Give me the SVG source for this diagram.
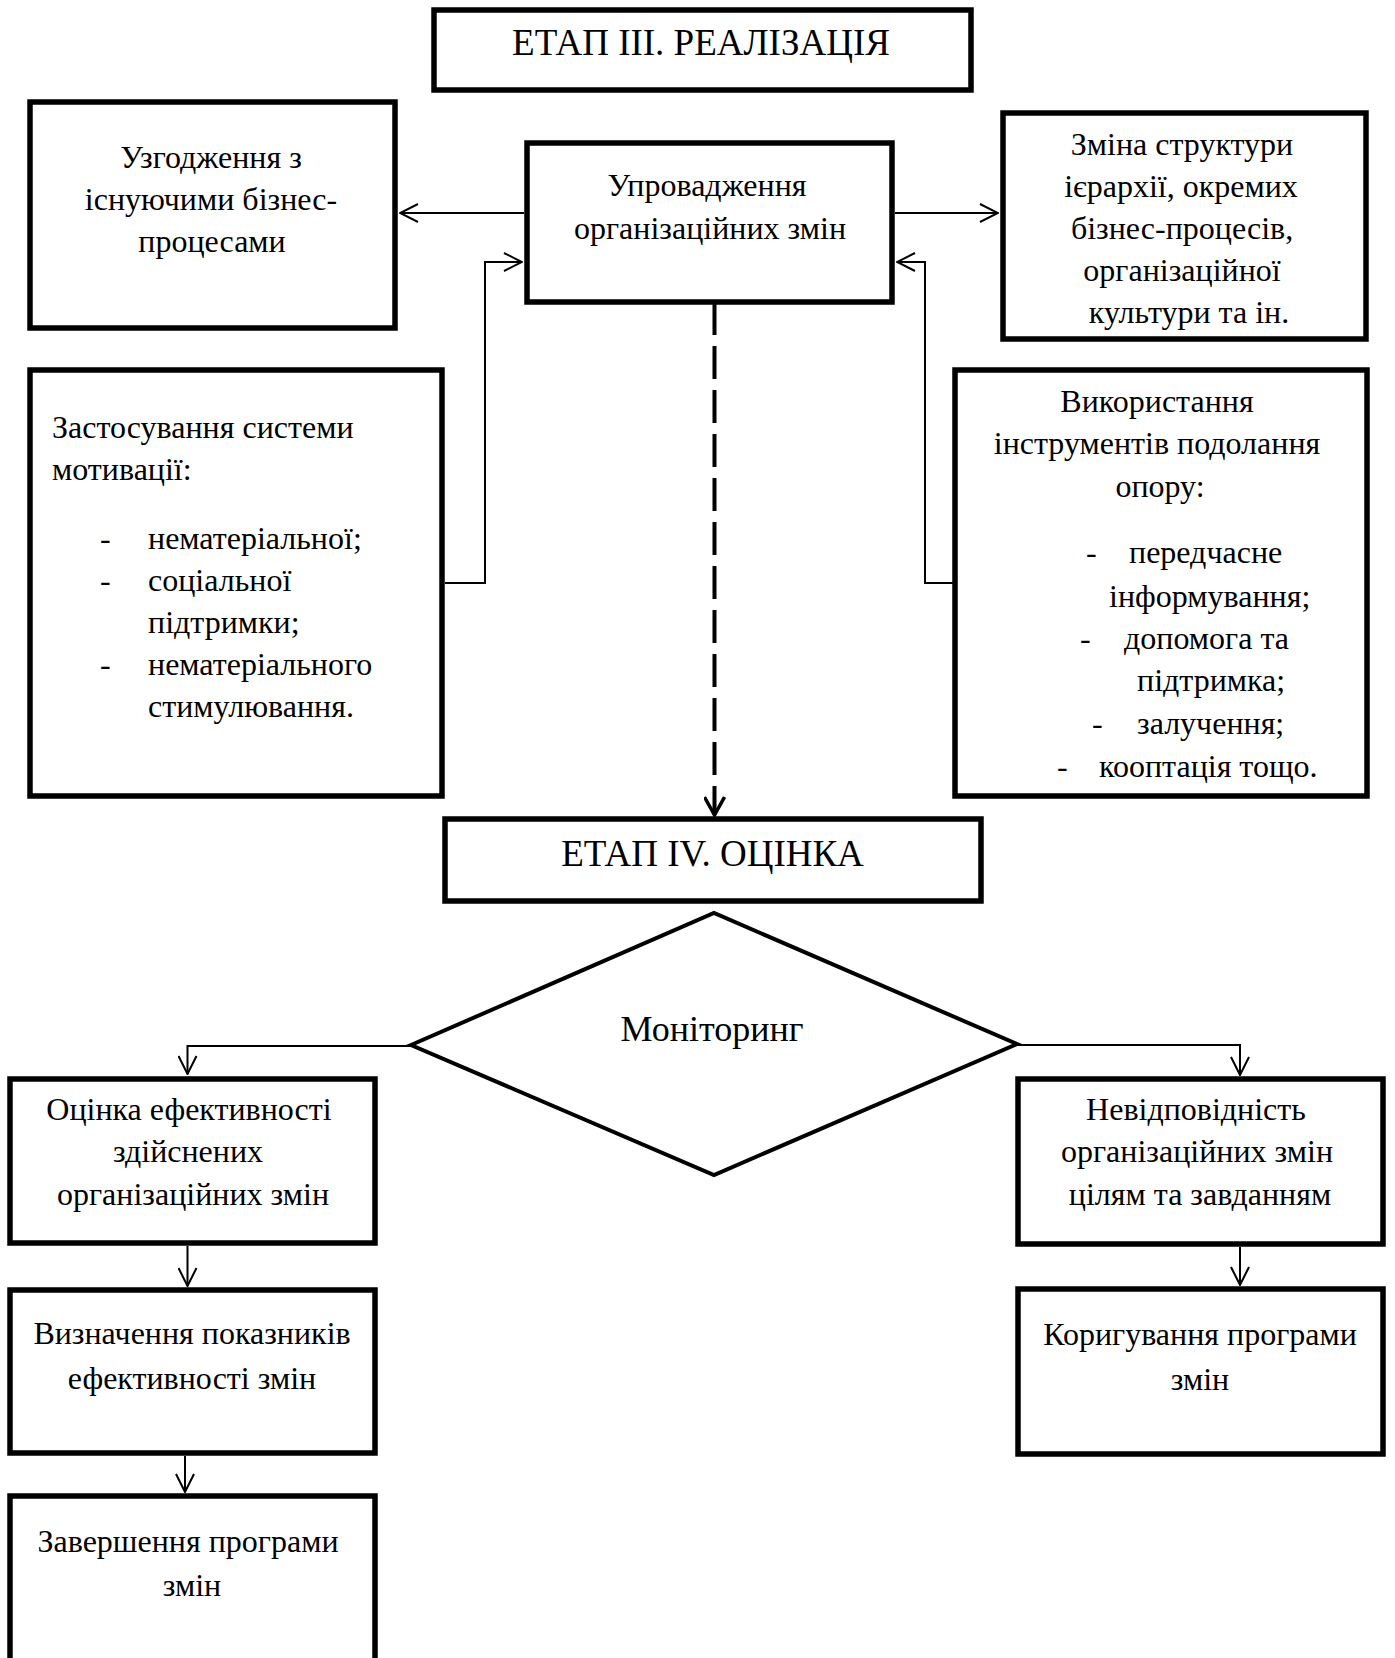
<svg xmlns="http://www.w3.org/2000/svg" width="1395" height="1658" viewBox="0 0 1395 1658">
<style>
.box{fill:#fff;stroke:#000;stroke-width:5.5}
.dia{fill:#fff;stroke:#000;stroke-width:4;stroke-linejoin:miter}
.t{font-family:"Liberation Serif","Times New Roman",serif;font-size:32px;fill:#000}
.c{text-anchor:middle}
.h{font-size:37px}
.m{font-size:36px}
.conn{fill:none;stroke:#000;stroke-width:2}
.dash{fill:none;stroke:#000;stroke-width:4;stroke-dasharray:33 11}
</style>
<defs>
<marker id="arr" viewBox="0 0 20 20" refX="19" refY="10" markerWidth="20" markerHeight="20" markerUnits="userSpaceOnUse" orient="auto">
<path d="M1,1 L19,10 L1,19" fill="none" stroke="#000" stroke-width="2"/>
</marker>
<marker id="arrD" viewBox="0 0 22 22" refX="20" refY="11" markerWidth="22" markerHeight="22" markerUnits="userSpaceOnUse" orient="auto">
<path d="M2,1 L20,11 L2,21" fill="none" stroke="#000" stroke-width="3.5"/>
</marker>
</defs>
<rect width="1395" height="1658" fill="#fff"/>

<g id="connectors">
<path class="conn" d="M524,213 L400,213" marker-end="url(#arr)"/>
<path class="conn" d="M895,213 L998,213" marker-end="url(#arr)"/>
<path class="conn" d="M445,583 L485,583 L485,262 L522,262" marker-end="url(#arr)"/>
<path class="conn" d="M953,583 L925,583 L925,262 L897,262" marker-end="url(#arr)"/>
<path class="dash" d="M714.5,302 L714.5,815"/>
<path d="M714.5,800 L714.5,815" fill="none" stroke="none" marker-end="url(#arrD)"/>
<path class="conn" d="M411,1046 L187.5,1046 L187.5,1074" marker-end="url(#arr)"/>
<path class="conn" d="M1017,1045 L1240,1045 L1240,1075" marker-end="url(#arr)"/>
<path class="conn" d="M187.5,1246 L187.5,1286" marker-end="url(#arr)"/>
<path class="conn" d="M185,1456 L185,1492" marker-end="url(#arr)"/>
<path class="conn" d="M1240,1247 L1240,1285" marker-end="url(#arr)"/>
</g>

<g id="etap3">
<rect class="box" x="434" y="10" width="537" height="80"/>
<text class="t c h" x="701" y="55">ЕТАП ІІІ. РЕАЛІЗАЦІЯ</text>
</g>

<g id="uzgodzhennia">
<rect class="box" x="30" y="102" width="365" height="226"/>
<text class="t c" x="211" y="168">Узгодження з</text>
<text class="t c" x="211" y="210">існуючими бізнес-</text>
<text class="t c" x="212" y="252">процесами</text>
</g>

<g id="uprovadzhennia">
<rect class="box" x="527" y="143" width="365" height="159"/>
<text class="t c" x="707" y="196">Упровадження</text>
<text class="t c" x="710" y="239">організаційних змін</text>
</g>

<g id="zmina">
<rect class="box" x="1003" y="113" width="363" height="226"/>
<text class="t c" x="1182" y="155">Зміна структури</text>
<text class="t c" x="1181" y="197">ієрархії, окремих</text>
<text class="t c" x="1182" y="239">бізнес-процесів,</text>
<text class="t c" x="1182" y="281">організаційної</text>
<text class="t c" x="1189" y="323">культури та ін.</text>
</g>

<g id="zastosuvannia">
<rect class="box" x="30" y="370" width="412" height="426"/>
<text class="t" x="52" y="438">Застосування системи</text>
<text class="t" x="52" y="480">мотивації:</text>
<text class="t" x="100" y="549">-</text>
<text class="t" x="148" y="549">нематеріальної;</text>
<text class="t" x="100" y="591">-</text>
<text class="t" x="148" y="591">соціальної</text>
<text class="t" x="148" y="633">підтримки;</text>
<text class="t" x="100" y="675">-</text>
<text class="t" x="148" y="675">нематеріального</text>
<text class="t" x="148" y="717">стимулювання.</text>
</g>

<g id="vykorystannia">
<rect class="box" x="955" y="370" width="412" height="426"/>
<text class="t c" x="1157" y="412">Використання</text>
<text class="t c" x="1157" y="454">інструментів подолання</text>
<text class="t c" x="1160" y="497">опору:</text>
<text class="t" x="1086" y="563">-</text>
<text class="t" x="1129" y="563">передчасне</text>
<text class="t" x="1109" y="607">інформування;</text>
<text class="t" x="1080" y="649">-</text>
<text class="t" x="1124" y="649">допомога та</text>
<text class="t" x="1137" y="691">підтримка;</text>
<text class="t" x="1092" y="734">-</text>
<text class="t" x="1137" y="734">залучення;</text>
<text class="t" x="1057" y="777">-</text>
<text class="t" x="1099" y="777">кооптація тощо.</text>
</g>

<g id="etap4">
<rect class="box" x="445" y="819" width="536" height="82"/>
<text class="t c h" x="712.5" y="866">ЕТАП IV. ОЦІНКА</text>
</g>

<g id="monitoring">
<polygon class="dia" points="411,1045 714,913 1017,1044 714,1175"/>
<text class="t c m" x="712" y="1041">Моніторинг</text>
</g>

<g id="otsinka">
<rect class="box" x="10" y="1079" width="365" height="164"/>
<text class="t c" x="189" y="1120">Оцінка ефективності</text>
<text class="t c" x="188" y="1162">здійснених</text>
<text class="t c" x="193" y="1205">організаційних змін</text>
</g>

<g id="nevidpovidnist">
<rect class="box" x="1018" y="1079" width="365" height="165"/>
<text class="t c" x="1196" y="1120">Невідповідність</text>
<text class="t c" x="1197" y="1162">організаційних змін</text>
<text class="t c" x="1200" y="1205">цілям та завданням</text>
</g>

<g id="vyznachennia">
<rect class="box" x="10" y="1290" width="365" height="163"/>
<text class="t c" x="192" y="1344">Визначення показників</text>
<text class="t c" x="192" y="1389">ефективності змін</text>
</g>

<g id="koryguvannia">
<rect class="box" x="1018" y="1289" width="365" height="165"/>
<text class="t c" x="1200" y="1345">Коригування програми</text>
<text class="t c" x="1200" y="1390">змін</text>
</g>

<g id="zavershennia">
<rect class="box" x="10" y="1496" width="365" height="200"/>
<text class="t c" x="188" y="1552">Завершення програми</text>
<text class="t c" x="192" y="1596">змін</text>
</g>
</svg>
